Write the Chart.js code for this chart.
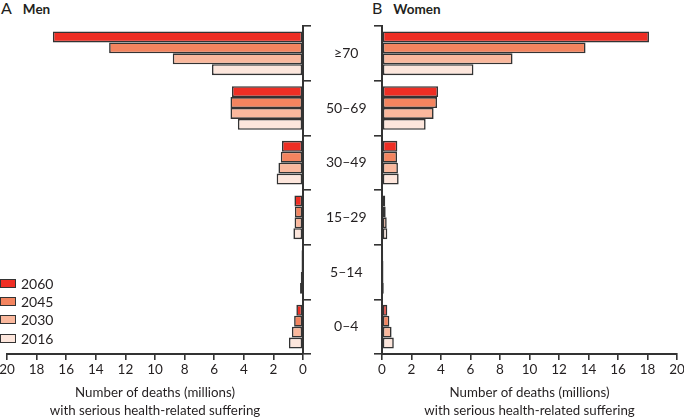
<!DOCTYPE html>
<html>
<head>
<meta charset="utf-8">
<script src="https://cdn.jsdelivr.net/npm/chart.js@4/dist/chart.umd.min.js"></script>
<style>
  html, body { margin: 0; padding: 0; background: #fff; }
  body { width: 684px; height: 420px; position: relative; overflow: hidden; font-family: Lato, "Open Sans", sans-serif; color: #231f20; }
  .box { position: absolute; top: 0; height: 420px; }
  .ptitle { position: absolute; top: -2px; font-size: 13.5px; font-weight: bold; white-space: nowrap; }
  .ptitle .lt { font-size: 16px; font-weight: normal; margin-right: 11px; }
  #legend { position: absolute; left: 0; top: 274px; font-size: 14px; }
  #legend .row { height: 18.3px; display: flex; align-items: center; }
  #legend .sw { width: 14px; height: 7px; border: 1.6px solid #333; margin-right: 5px; }
</style>
</head>
<body>
<div class="ptitle" style="left:1px;"><span class="lt">A</span>Men</div>
<div class="ptitle" style="left:372px;"><span class="lt">B</span>Women</div>
<div class="box" style="left:0; width:386px;"><canvas id="men"></canvas></div>
<div class="box" style="left:372px; width:312px;"><canvas id="women"></canvas></div>
<div id="legend"></div>
<script>
// Data (millions of deaths with serious health-related suffering)
const ageGroups = ["≥70", "50–69", "30–49", "15–29", "5–14", "0–4"];
const years = ["2060", "2045", "2030", "2016"];
const yearColors = ["#ee2e24", "#f3845f", "#fab89d", "#fde6dc"];

const men2060 = [16.9, 4.8, 1.42, 0.58, 0.10, 0.45];
const men2045 = [13.1, 4.9, 1.50, 0.55, 0.10, 0.60];
const men2030 = [8.8, 4.9, 1.66, 0.57, 0.15, 0.75];
const men2016 = [6.15, 4.4, 1.78, 0.65, 0.20, 0.95];

const women2060 = [18.1, 3.8, 1.04, 0.22, 0.08, 0.36];
const women2045 = [13.8, 3.73, 1.02, 0.25, 0.10, 0.50];
const women2030 = [8.85, 3.5, 1.08, 0.32, 0.10, 0.65];
const women2016 = [6.2, 2.96, 1.13, 0.36, 0.12, 0.80];

const xTicks = [0, 2, 4, 6, 8, 10, 12, 14, 16, 18, 20];
const axisTitle = ["Number of deaths (millions)", "with serious health-related suffering"];

const dark = "#333333";
const textColor = "#231f20";
const FONT = "Lato, 'Open Sans', sans-serif";

function datasets(series) {
  return series.map((vals, i) => ({
    label: years[i],
    data: vals,
    backgroundColor: yearColors[i],
    borderColor: dark,
    borderWidth: 1.6,
    borderSkipped: false,
    categoryPercentage: 0.8,
    barPercentage: 1.0
  }));
}

function xScale(reverse, padL, padR) {
  return {
    type: "linear",
    min: 0, max: 20,
    reverse: reverse,
    afterBuildTicks: (s) => { s.ticks = xTicks.map(v => ({ value: v })); },
    afterFit: (s) => { s.height = 66; s.paddingLeft = padL; s.paddingRight = padR; },
    border: { display: true, color: dark, width: 2 },
    grid: { drawOnChartArea: false, drawTicks: true, tickLength: 6, color: dark, lineWidth: 1.6 },
    ticks: { color: textColor, font: { family: FONT, size: 13.5 }, padding: 2, maxRotation: 0 },
    title: {
      display: true, text: axisTitle, color: textColor,
      font: { family: FONT, size: 13.3, lineHeight: 1.35 },
      padding: { top: 0, bottom: 0 }
    }
  };
}

const common = {
  indexAxis: "y",
  responsive: false,
  maintainAspectRatio: false,
  animation: false,
  plugins: { legend: { display: false }, tooltip: { enabled: false } }
};

// Men chart
const menCanvas = document.getElementById("men");
menCanvas.width = 386; menCanvas.height = 420;
new Chart(menCanvas, {
  type: "bar",
  data: { labels: ageGroups, datasets: datasets([men2060, men2045, men2030, men2016]) },
  options: Object.assign({}, common, {
    layout: { padding: { top: 26, bottom: 0, left: 0, right: 0 } },
    scales: {
      x: xScale(true, 7, 0),
      y: {
        type: "category",
        position: "right",
        offset: true,
        afterFit: (s) => { s.width = 83; },
        border: { display: true, color: dark, width: 2 },
        grid: { offset: true, drawOnChartArea: false, drawTicks: true, tickLength: 8, color: dark, lineWidth: 1.6 },
        ticks: { color: textColor, font: { family: FONT, size: 14 }, crossAlign: "center", padding: 15 }
      }
    }
  })
});

// Women chart
const womenCanvas = document.getElementById("women");
womenCanvas.width = 312; womenCanvas.height = 420;
new Chart(womenCanvas, {
  type: "bar",
  data: { labels: ageGroups, datasets: datasets([women2060, women2045, women2030, women2016]) },
  options: Object.assign({}, common, {
    layout: { padding: { top: 26, bottom: 0, left: 0, right: 0 } },
    scales: {
      x: xScale(false, 0, 7),
      y: {
        type: "category",
        position: "left",
        offset: true,
        afterFit: (s) => { s.width = 10; },
        border: { display: true, color: dark, width: 2 },
        grid: { offset: true, drawOnChartArea: false, drawTicks: true, tickLength: 8, color: dark, lineWidth: 1.6 },
        ticks: { display: false }
      }
    }
  })
});

// Legend
const legend = document.getElementById("legend");
years.forEach((y, i) => {
  const row = document.createElement("div");
  row.className = "row";
  const sw = document.createElement("div");
  sw.className = "sw";
  sw.style.background = yearColors[i];
  const t = document.createElement("span");
  t.textContent = y;
  row.appendChild(sw); row.appendChild(t);
  legend.appendChild(row);
});
</script>
</body>
</html>
